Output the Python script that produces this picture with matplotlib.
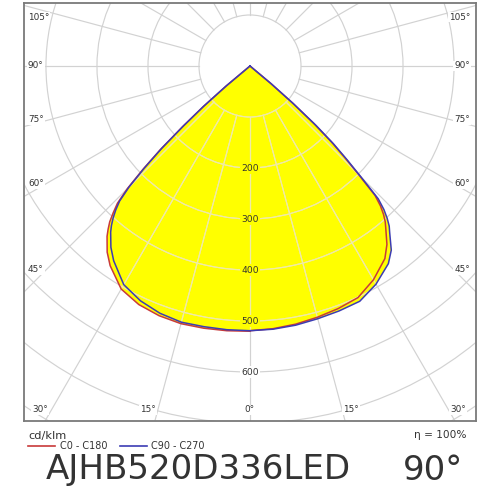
import numpy as np
import matplotlib
matplotlib.use("Agg")
import matplotlib.pyplot as plt
from matplotlib.patches import Circle, Polygon
from matplotlib.lines import Line2D

# ---------------- data (cd/klm) ----------------
gamma = [0, 5, 10, 15, 20, 25, 30, 35, 37.5, 40, 41, 42, 43, 44, 45, 46, 47,
         48, 49, 50, 51, 55, 60, 65, 70, 75, 80, 85, 90]
c0 = [519, 517, 514, 510, 506, 501, 484, 461, 441, 414, 404, 391, 375, 353,
      302, 258, 218, 168, 110, 52, 0, 0, 0, 0, 0, 0, 0, 0, 0]
c180 = [520, 521, 522, 523, 521, 516, 505, 478, 460, 436, 424, 411, 393, 374,
        340, 292, 240, 178, 122, 62, 0, 0, 0, 0, 0, 0, 0, 0, 0]
c90 = [519, 518, 516, 513, 511, 509, 494, 473, 455, 426, 416, 402, 385, 362,
       308, 264, 224, 174, 113, 55, 0, 0, 0, 0, 0, 0, 0, 0, 0]
c270 = [519, 519, 519, 520, 516, 508, 495, 466, 448, 425, 414, 401, 386, 368,
        335, 287, 236, 175, 120, 60, 0, 0, 0, 0, 0, 0, 0, 0, 0]

rings = [100, 200, 300, 400, 500, 600, 700, 800, 900, 1000]
ring_labels = [200, 300, 400, 500, 600]
spokes = list(range(0, 360, 15))

legend_names = ["C0 - C180", "C90 - C270"]
unit_text = "cd/klm"
eta_text = "\u03b7 = 100%"
model_text = "AJHB520D336LED"
beam_text = "90\u00b0"

RED = "#c83a3a"
BLUE = "#3c3cb4"
YELLOW = "#ffff00"
GRID = "#d2d2d2"
GRID_ON_FILL = "#efeaa6"
TXT = "#333333"

W = H = 500
fig = plt.figure(figsize=(5, 5), dpi=100)
ax = fig.add_axes([24 / W, 1 - 421 / H, 452 / W, 418 / H])


def outline(left, right):
    g = np.radians(gamma)
    L = np.asarray(left, float)
    R = np.asarray(right, float)
    xl, yl = -L * np.sin(g), -L * np.cos(g)
    xr, yr = R * np.sin(g), -R * np.cos(g)
    return (np.concatenate([xl[::-1], xr]), np.concatenate([yl[::-1], yr]))


xa, ya = outline(c180, c0)
xb, yb = outline(c270, c90)

fill_a = Polygon(np.column_stack([xa, ya]), closed=True, fc=YELLOW, ec="none", zorder=1)
fill_b = Polygon(np.column_stack([xb, yb]), closed=True, fc=YELLOW, ec="none", zorder=1)
ax.add_patch(fill_a)
ax.add_patch(fill_b)


def draw_grid(color, z, clip=None):
    arts = []
    for r in rings:
        c = Circle((0, 0), r, fill=False, ec=color, lw=0.85, zorder=z)
        ax.add_patch(c)
        arts.append(c)
    for a in spokes:
        t = np.radians(a)
        ln, = ax.plot([rings[0] * np.sin(t), 3000 * np.sin(t)],
                      [-rings[0] * np.cos(t), -3000 * np.cos(t)],
                      color=color, lw=0.85, zorder=z)
        arts.append(ln)
    if clip is not None:
        for art in arts:
            art.set_clip_path(clip)


draw_grid(GRID, 0.5)
draw_grid(GRID_ON_FILL, 1.5, clip=fill_a)
draw_grid(GRID_ON_FILL, 1.6, clip=fill_b)

ax.plot(xa, ya, color=RED, lw=1.1, zorder=3, solid_joinstyle="round")
ax.plot(xb, yb, color=BLUE, lw=1.1, zorder=3.1, solid_joinstyle="round")

# ring value labels
for r in ring_labels:
    inside = r < c0[0]
    ax.text(0, -r, str(r), ha="center", va="center", fontsize=6.6, color=TXT,
            zorder=4, bbox=dict(boxstyle="square,pad=0.12",
                                fc=YELLOW if inside else "white", ec="none"))

ax.set_xlim(-443, 443)
ax.set_ylim(-696, 123.5)
ax.set_aspect("equal", adjustable="box")
ax.set_xticks([])
ax.set_yticks([])
for s in ax.spines.values():
    s.set_color("#7a7a7a")
    s.set_linewidth(1.3)
    s.set_zorder(5)


def ptext(x, y, s, **kw):
    fig.text(x / W, 1 - y / H, s, **kw)


# angle labels along the frame
lab_kw = dict(fontsize=6.4, color=TXT, va="center", zorder=6,
              bbox=dict(boxstyle="square,pad=0.1", fc="white", ec="none"))
side = [("105\u00b0", 17), ("90\u00b0", 66), ("75\u00b0", 120), ("60\u00b0", 184), ("45\u00b0", 270)]
for s, y in side:
    ptext(28, y, s, ha="left", **lab_kw)
    ptext(470, y, s, ha="right", **lab_kw)
bottom = [("30\u00b0", 40), ("15\u00b0", 148), ("0\u00b0", 249.5), ("15\u00b0", 351), ("30\u00b0", 458)]
for s, x in bottom:
    ptext(x, 410, s, ha="center", **lab_kw)

# legend / captions
ptext(28, 436, unit_text, ha="left", va="center", fontsize=8.2, color=TXT)
ptext(467, 435, eta_text, ha="right", va="center", fontsize=7.6, color=TXT)
fig.add_artist(Line2D([28 / W, 55 / W], [1 - 446 / H] * 2, color=RED, lw=1.2,
                      transform=fig.transFigure))
ptext(60, 446, legend_names[0], ha="left", va="center", fontsize=6.9, color=TXT)
fig.add_artist(Line2D([120 / W, 147 / W], [1 - 446 / H] * 2, color=BLUE, lw=1.2,
                      transform=fig.transFigure))
ptext(151, 446, legend_names[1], ha="left", va="center", fontsize=6.9, color=TXT)

ptext(46, 470, model_text, ha="left", va="center", fontsize=24.5, color="#333333")
ptext(403, 470, beam_text, ha="left", va="center", fontsize=24.5, color="#333333")

fig.savefig("out.png", dpi=100, facecolor="white")
